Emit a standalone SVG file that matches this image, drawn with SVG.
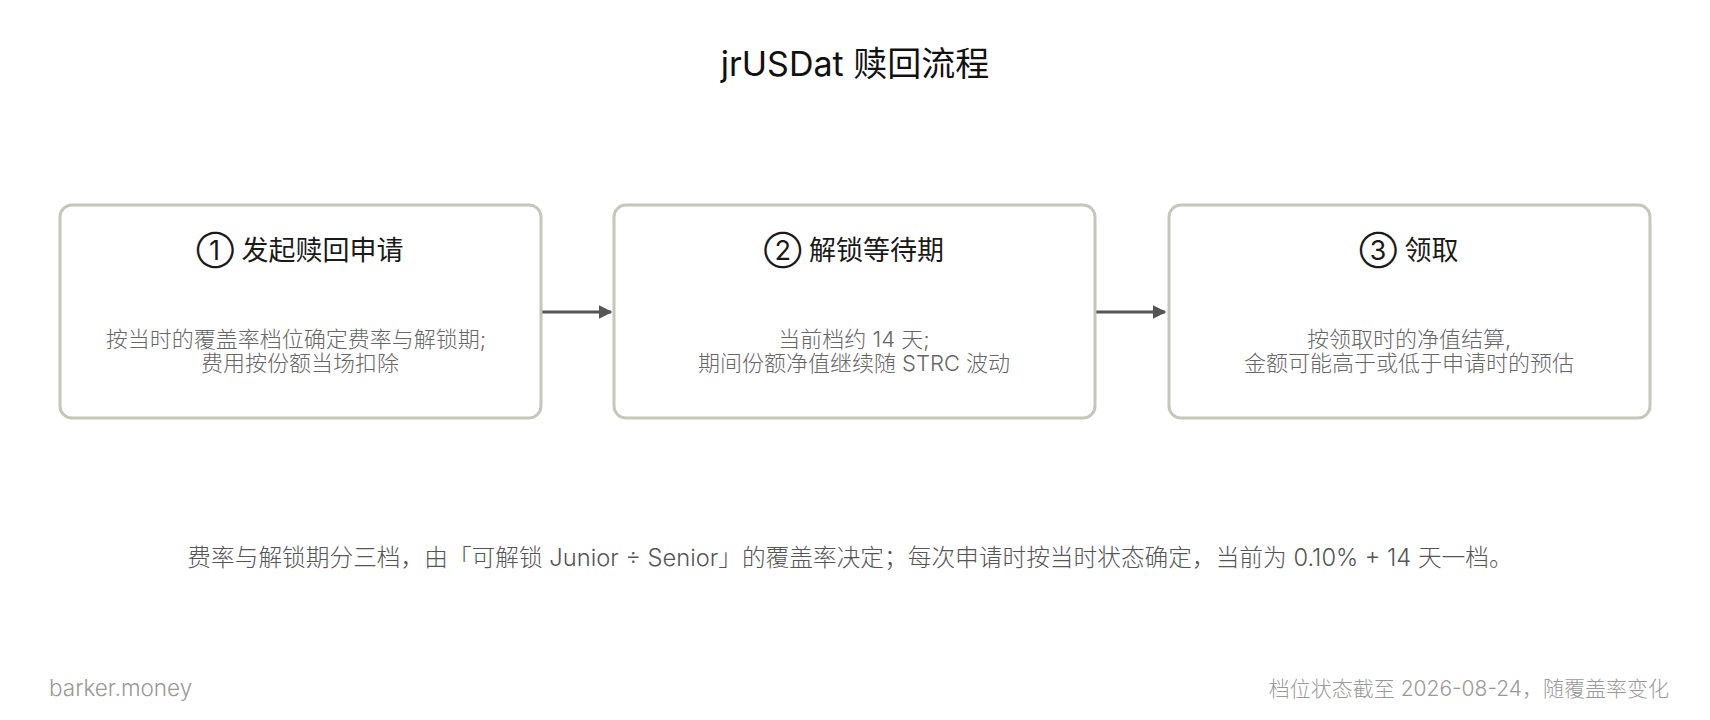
<svg xmlns="http://www.w3.org/2000/svg" width="1710" height="720" viewBox="0 0 1710 720">
<defs>
<style>
text{font-family:Inter,"Noto Sans CJK SC",sans-serif;text-anchor:middle}
.box{fill:#fff;stroke:#c6c6ba;stroke-width:3}
.t{font-size:27px;fill:#1a1a1a}
.b{font-size:22px;fill:#666;font-weight:300}
.title{font-size:34px;fill:#111}
.note{font-size:23.7px;fill:#555;font-weight:300}
.foot{font-size:21px;fill:#999;font-weight:300}
.conn{stroke:#555;stroke-width:3;fill:none}
</style>
<marker id="ah" viewBox="0 0 10 10" refX="9" refY="5" markerWidth="4.5" markerHeight="4.5" orient="auto" markerUnits="strokeWidth">
<path d="M0,0 L10,5 L0,10 z" fill="#555"/>
</marker>
</defs>
<rect width="1710" height="720" fill="#fff"/>
<text class="title" x="855" y="76">jrUSDat 赎回流程</text>
<g id="connectors">
<line class="conn" x1="542" y1="312" x2="611" y2="312" marker-end="url(#ah)"/>
<line class="conn" x1="1096" y1="312" x2="1165" y2="312" marker-end="url(#ah)"/>
</g>
<g id="node1">
<rect class="box" x="60" y="205" width="481" height="213" rx="12"/>
<text class="t" x="300" y="260">① 发起赎回申请</text>
<text class="b" x="296" y="347">按当时的覆盖率档位确定费率与解锁期;</text>
<text class="b" x="300" y="371">费用按份额当场扣除</text>
</g>
<g id="node2">
<rect class="box" x="614" y="205" width="481" height="213" rx="12"/>
<text class="t" x="854" y="260">② 解锁等待期</text>
<text class="b" x="854" y="347">当前档约 14 天;</text>
<text class="b" x="854" y="371">期间份额净值继续随 STRC 波动</text>
</g>
<g id="node3">
<rect class="box" x="1169" y="205" width="481" height="213" rx="12"/>
<text class="t" x="1409" y="260">③ 领取</text>
<text class="b" x="1409" y="347">按领取时的净值结算,</text>
<text class="b" x="1409" y="371">金额可能高于或低于申请时的预估</text>
</g>
<text class="note" x="850" y="566">费率与解锁期分三档，由「可解锁 Junior ÷ Senior」的覆盖率决定；每次申请时按当时状态确定，当前为 0.10% + 14 天一档。</text>
<text class="foot" x="49" y="696" style="text-anchor:start;font-size:22.5px">barker.money</text>
<text class="foot" x="1669" y="696" style="text-anchor:end">档位状态截至 2026-08-24，随覆盖率变化</text>
</svg>
